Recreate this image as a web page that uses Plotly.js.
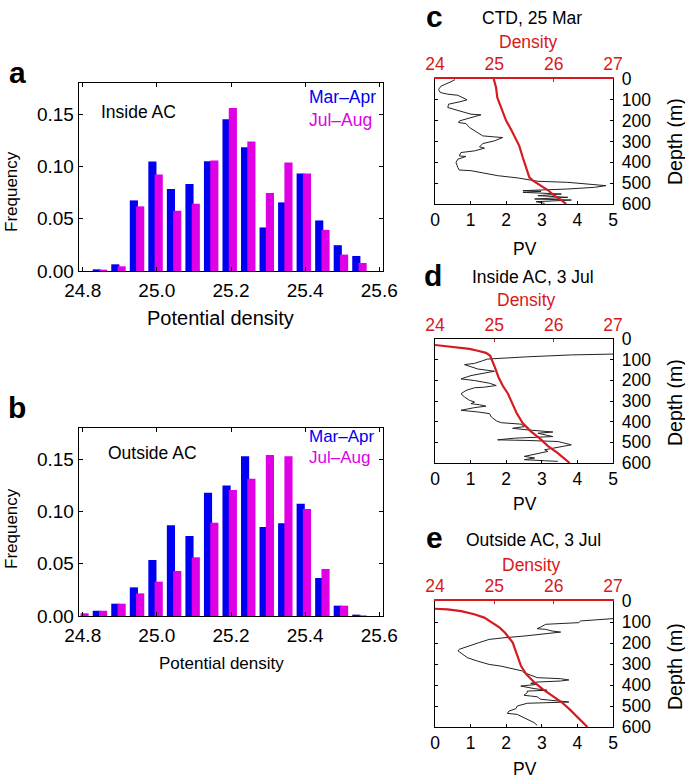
<!DOCTYPE html>
<html>
<head>
<meta charset="utf-8">
<script src="https://cdn.plot.ly/plotly-3.0.1.min.js"></script>
<style>
  html, body { margin: 0; padding: 0; background: #fff; }
  #grafica { width: 685px; height: 780px; }
</style>
</head>
<body>
<div id="grafica"></div>
<script>
// Histogramas de densidad potencial (paneles a y b)
const densityBins = [24.80, 24.85, 24.90, 24.95, 25.00, 25.05, 25.10, 25.15, 25.20, 25.25, 25.30, 25.35, 25.40, 25.45, 25.50, 25.55];
const insideMarApr  = [0, 0.0016, 0.0064, 0.0676, 0.1048, 0.0785, 0.0833, 0.1051, 0.1452, 0.1186, 0.0417, 0.0657, 0.0933, 0.0484, 0.0247, 0.0144];
const insideJulAug  = [0, 0.0013, 0.0045, 0.0619, 0.0923, 0.0577, 0.0644, 0.1058, 0.1561, 0.1240, 0.0747, 0.1038, 0.0933, 0.0394, 0.0157, 0.0077];
const outsideMarApr = [0, 0.0050, 0.0118, 0.0274, 0.0536, 0.0868, 0.0766, 0.1180, 0.1250, 0.1529, 0.0852, 0.0887, 0.1075, 0.0364, 0.0099, 0.0013];
const outsideJulAug = [0.0026, 0.0050, 0.0118, 0.0217, 0.0329, 0.0431, 0.0562, 0.0894, 0.1206, 0.1315, 0.1541, 0.1529, 0.1024, 0.0450, 0.0099, 0.0006];

// Perfil CTD 25 Mar (panel c)
const ctdDepth = [3, 13, 34, 50, 65, 73, 78, 100, 108, 121, 137, 153, 169, 172, 185, 201, 209, 214, 233, 257, 273, 278, 281, 297, 310, 326, 332, 345, 353, 369, 372, 385, 401, 424, 437, 440, 453, 464, 475, 485, 491, 496, 512, 520, 528, 536, 539, 544, 552, 560, 568, 576, 581, 589, 597];
const ctdPV    = [0.56, 0.45, 0.17, 0.10, 0.15, 0.36, 0.64, 0.90, 0.73, 0.38, 0.36, 0.69, 1.01, 1.29, 1.01, 0.69, 0.66, 0.87, 0.97, 1.20, 1.34, 1.67, 1.90, 1.67, 1.34, 1.25, 1.39, 1.11, 0.73, 0.68, 0.87, 0.64, 0.59, 0.64, 0.68, 1.01, 1.48, 1.76, 2.33, 2.65, 2.89, 3.73, 4.80, 4.48, 3.73, 2.47, 2.98, 2.47, 3.55, 2.89, 3.73, 2.80, 3.83, 2.84, 3.08];
const ctdDensDepth = [0, 42, 89, 121, 153, 201, 241, 281, 321, 377, 424, 472, 488, 512, 533, 560, 581, 600];
const ctdDens      = [24.99, 25.03, 25.05, 25.09, 25.13, 25.20, 25.28, 25.35, 25.42, 25.48, 25.54, 25.59, 25.65, 25.79, 25.90, 26.01, 26.13, 26.21];

// Dentro del AC, 3 Jul (panel d)
const inDepth = [73, 77, 86, 93, 97, 105, 118, 124, 134, 145, 156, 166, 177, 193, 201, 214, 225, 233, 236, 249, 265, 281, 297, 305, 313, 318, 325, 332, 345, 353, 361, 377, 396, 405, 412, 424, 432, 440, 450, 456, 472, 480, 488, 491, 496, 512, 520, 528, 536, 544, 555, 568, 576, 584, 589, 592];
const inPV    = [5.0, 3.83, 2.61, 1.58, 1.48, 1.34, 1.11, 0.83, 1.01, 1.20, 1.67, 1.39, 1.01, 0.73, 1.11, 1.53, 1.72, 1.39, 1.11, 0.87, 0.73, 0.83, 0.97, 1.11, 1.01, 1.25, 1.43, 1.11, 0.73, 1.20, 1.53, 1.58, 1.72, 1.86, 2.42, 2.51, 2.18, 2.61, 3.31, 2.89, 3.31, 2.23, 1.76, 2.61, 3.45, 3.83, 3.55, 3.36, 3.08, 3.17, 2.89, 2.51, 2.80, 2.51, 3.08, 3.45];
const inDensDepth = [29, 35, 41, 48, 57, 67, 81, 105, 137, 185, 225, 265, 313, 361, 408, 448, 480, 517, 552, 576, 600];
const inDens      = [24.00, 24.21, 24.44, 24.58, 24.72, 24.86, 24.93, 24.97, 25.01, 25.07, 25.14, 25.23, 25.31, 25.38, 25.48, 25.62, 25.76, 25.90, 26.07, 26.18, 26.27];

// Fuera del AC, 3 Jul (panel e)
const outDepth = [84, 87, 95, 103, 106, 111, 124, 132, 135, 143, 148, 159, 167, 175, 183, 198, 211, 230, 238, 254, 270, 286, 302, 310, 322, 333, 341, 357, 365, 370, 376, 381, 386, 392, 397, 405, 417, 425, 429, 437, 449, 456, 468, 481, 487, 500, 513, 524, 535, 540, 556, 571, 579, 592];
const outPV    = [5.0, 4.69, 4.09, 4.04, 3.53, 3.11, 2.97, 2.87, 3.11, 3.29, 3.53, 2.97, 2.50, 1.94, 1.52, 1.24, 1.01, 0.68, 0.65, 0.77, 0.91, 1.19, 1.52, 1.85, 2.13, 2.45, 2.50, 2.73, 2.87, 3.53, 3.76, 3.53, 2.87, 2.69, 2.87, 2.41, 2.78, 3.15, 2.59, 2.59, 2.50, 2.87, 2.97, 3.76, 2.59, 2.31, 2.27, 2.08, 2.03, 2.31, 2.50, 2.64, 2.78, 2.87];
const outDensDepth = [37, 40, 48, 63, 79, 103, 127, 151, 175, 198, 230, 270, 310, 349, 389, 421, 452, 481, 516, 548, 579, 600];
const outDens      = [24.00, 24.21, 24.44, 24.66, 24.83, 24.97, 25.09, 25.18, 25.25, 25.31, 25.35, 25.40, 25.45, 25.54, 25.68, 25.82, 25.99, 26.13, 26.27, 26.38, 26.49, 26.57];

const FONT = 'Liberation Sans, Arial, Helvetica, sans-serif';
const BLUE = '#0000f0';
const MAGENTA = '#e000e6';
const RED = '#d71920';
const W = 685, H = 780;
const px = x => x / W;
const py = y => 1 - y / H;

function barTrace(y, color, offset, xa, ya) {
    return {
        type: 'bar', x: densityBins, y: y,
        offset: offset, width: 0.022,
        marker: { color: color, line: { width: 0 } },
        xaxis: xa, yaxis: ya, hoverinfo: 'x+y'
    };
}

function lineTrace(x, y, color, w, xa, ya) {
    return {
        type: 'scatter', mode: 'lines', x: x, y: y,
        line: { color: color, width: w },
        xaxis: xa, yaxis: ya
    };
}

const data = [
    barTrace(insideMarApr, BLUE, -0.023, 'x', 'y'),
    barTrace(insideJulAug, MAGENTA, -0.006, 'x', 'y'),
    barTrace(outsideMarApr, BLUE, -0.023, 'x2', 'y2'),
    barTrace(outsideJulAug, MAGENTA, -0.006, 'x2', 'y2'),
    lineTrace(ctdPV, ctdDepth, '#222', 1, 'x3', 'y3'),
    lineTrace(ctdDens, ctdDensDepth, RED, 2.2, 'x4', 'y3'),
    lineTrace(inPV, inDepth, '#222', 1, 'x5', 'y4'),
    lineTrace(inDens, inDensDepth, RED, 2.2, 'x6', 'y4'),
    lineTrace(outPV, outDepth, '#222', 1, 'x7', 'y5'),
    lineTrace(outDens, outDensDepth, RED, 2.2, 'x8', 'y5')
];

const baseAxis = {
    showgrid: false, zeroline: false, showline: true,
    linecolor: '#000', linewidth: 1.3,
    ticks: 'inside', ticklen: 4, tickcolor: '#000',
    tickfont: { family: FONT, size: 19, color: '#000' }
};

function histX(anchor) {
    return Object.assign({}, baseAxis, {
        domain: [px(79), px(383)], range: [24.79, 25.61],
        tick0: 24.8, dtick: 0.2, tickformat: '.1f',
        mirror: 'ticks', anchor: anchor, ticklabelstandoff: 2
    });
}
function histY(top, bottom, anchor) {
    return Object.assign({}, baseAxis, {
        domain: [py(bottom), py(top)], range: [0, 0.18],
        dtick: 0.05, tickformat: '.2f', mirror: 'ticks', anchor: anchor
    });
}

// Ejes de los perfiles: PV abajo, densidad arriba (roja), profundidad a la derecha
function pvAxis(anchor) {
    return Object.assign({}, baseAxis, {
        domain: [px(435), px(613)], range: [0, 5], dtick: 1,
        ticklen: 3, anchor: anchor, mirror: false,
        tickfont: { family: FONT, size: 17.5, color: '#000' }
    });
}
function densAxis(over, anchor, lineColor) {
    return Object.assign({}, baseAxis, {
        overlaying: over, side: 'top', anchor: anchor,
        range: [24, 27], dtick: 1, ticklen: 3, tickcolor: RED,
        linecolor: lineColor, linewidth: lineColor === RED ? 2 : 1.3,
        tickfont: { family: FONT, size: 17.5, color: RED }
    });
}
function depthAxis(top, bottom, anchor) {
    return Object.assign({}, baseAxis, {
        domain: [py(bottom), py(top)], range: [600, 0], dtick: 100,
        ticklen: 3, side: 'right', anchor: anchor, mirror: 'ticks',
        ticklabelstandoff: 4,
        tickfont: { family: FONT, size: 17.5, color: '#000' }
    });
}

function ann(text, x, y, size, opts) {
    return Object.assign({
        text: text, x: px(x), y: py(y), xref: 'paper', yref: 'paper',
        showarrow: false, xanchor: 'center', yanchor: 'middle',
        font: { family: FONT, size: size, color: '#000' }
    }, opts || {});
}
function colorFont(size, color) {
    return { font: { family: FONT, size: size, color: color } };
}

const annotations = [
    // panel a
    ann('<b>a</b>', 17, 72, 30),
    ann('Inside AC', 138, 112, 17.5),
    ann('Mar–Apr', 307, 97, 17.5, Object.assign({ xanchor: 'left' }, colorFont(17.5, BLUE))),
    ann('Jul–Aug', 307, 120, 17.5, Object.assign({ xanchor: 'left' }, colorFont(17.5, MAGENTA))),
    ann('Frequency', 11, 192, 17, { textangle: -90 }),
    ann('Potential density', 220, 318, 20),
    // panel b
    ann('<b>b</b>', 17, 407, 30),
    ann('Outside AC', 152, 453, 17.5),
    ann('Mar–Apr', 307, 436, 17, Object.assign({ xanchor: 'left' }, colorFont(17, BLUE))),
    ann('Jul–Aug', 307, 457, 17, Object.assign({ xanchor: 'left' }, colorFont(17, MAGENTA))),
    ann('Frequency', 11, 529, 17, { textangle: -90 }),
    ann('Potential density', 221, 663, 17),
    // panel c
    ann('<b>c</b>', 434, 16, 30),
    ann('CTD, 25 Mar', 532, 18, 17.5),
    ann('Density', 528, 42, 17.5, colorFont(17.5, RED)),
    ann('PV', 525, 249, 17.5),
    ann('Depth (m)', 675, 142, 19.5, { textangle: -90 }),
    // panel d
    ann('<b>d</b>', 433, 275, 30),
    ann('Inside AC, 3 Jul', 533, 277, 17.5),
    ann('Density', 526, 300, 17.5, colorFont(17.5, RED)),
    ann('PV', 525, 504, 17.5),
    ann('Depth (m)', 675, 403, 19.5, { textangle: -90 }),
    // panel e
    ann('<b>e</b>', 434, 537, 30),
    ann('Outside AC, 3 Jul', 533, 540, 17.5),
    ann('Density', 531, 565, 17.5, colorFont(17.5, RED)),
    ann('PV', 525, 769, 17.5),
    ann('Depth (m)', 675, 667, 19.5, { textangle: -90 })
];

const layout = {
    width: W, height: H,
    margin: { l: 0, r: 0, t: 0, b: 0 },
    paper_bgcolor: '#fff', plot_bgcolor: '#fff',
    showlegend: false, barmode: 'overlay',
    font: { family: FONT, color: '#000' },
    xaxis: histX('y'),
    yaxis: histY(83, 271, 'x'),
    xaxis2: histX('y2'),
    yaxis2: histY(428, 616, 'x2'),
    xaxis3: pvAxis('y3'),
    xaxis4: densAxis('x3', 'y3', RED),
    yaxis3: depthAxis(79, 204, 'x3'),
    xaxis5: pvAxis('y4'),
    xaxis6: densAxis('x5', 'y4', '#000'),
    yaxis4: depthAxis(339, 463, 'x5'),
    xaxis7: pvAxis('y5'),
    xaxis8: densAxis('x7', 'y5', RED),
    yaxis5: depthAxis(601, 727, 'x7'),
    annotations: annotations
};

Plotly.newPlot('grafica', data, layout, { displayModeBar: false, staticPlot: true });
</script>
</body>
</html>
